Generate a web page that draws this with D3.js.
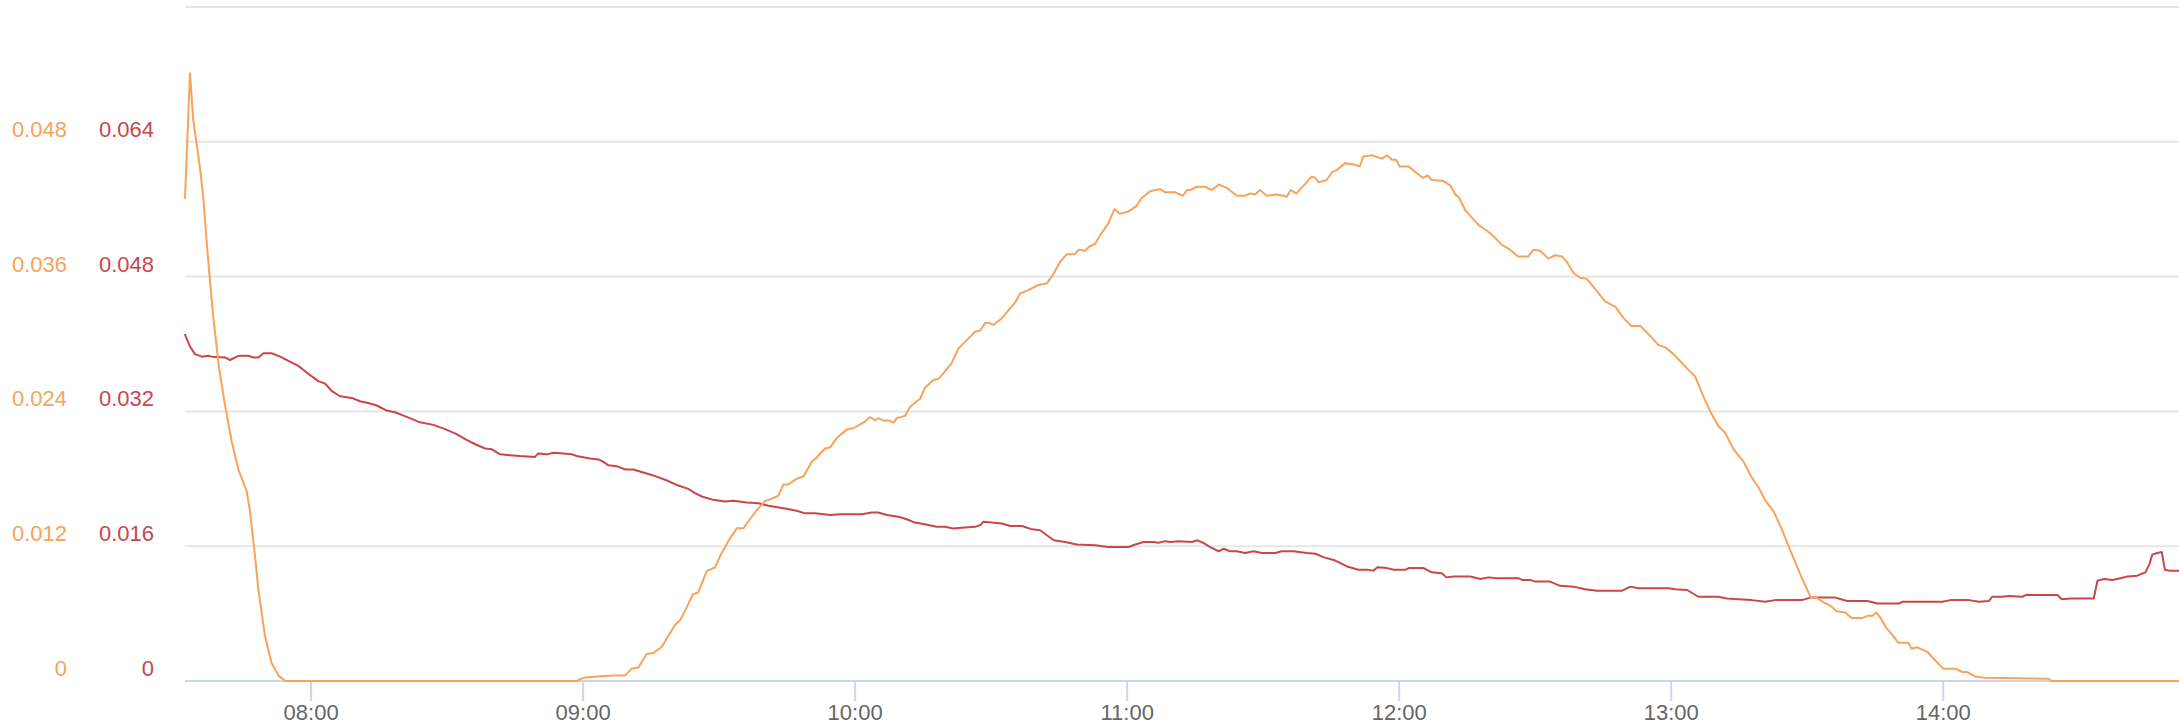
<!DOCTYPE html>
<html>
<head>
<meta charset="utf-8">
<script src="https://cdn.jsdelivr.net/npm/d3@7"></script>
<style>
  html, body { margin: 0; padding: 0; background: #ffffff; }
  svg { display: block; font-family: "Liberation Sans", Arial, Helvetica, sans-serif; }
</style>
</head>
<body>
<svg id="chart" width="2179" height="727"></svg>
<script>
// Orange series (left-most axis, 0 – 0.06)
const timesA = [
  "07:32:18","07:33:24","07:34:06","07:35:36","07:36:18","07:37:24","07:38:30","07:39:42","07:41:06","07:42:36",
  "07:44:06","07:45:54","07:46:36","07:47:42","07:48:30","07:49:54","07:51:24","07:52:54","07:54:24","08:58:42",
  "09:00:12","09:03:06","09:06:48","09:09:24","09:10:48","09:12:18","09:14:06","09:15:36","09:17:24","09:18:36",
  "09:20:24","09:21:30","09:23:00","09:24:18","09:25:30","09:27:24","09:29:12","09:30:18","09:32:30","09:34:00",
  "09:35:30","09:36:54","09:38:24","09:40:12","09:42:06","09:43:12","09:44:18","09:45:24","09:47:12","09:48:42",
  "09:50:30","09:51:36","09:53:30","09:54:36","09:56:00","09:58:18","09:59:42","10:02:18","10:03:24","10:04:30",
  "10:05:12","10:06:18","10:07:30","10:08:36","10:09:18","10:11:06","10:12:12","10:13:42","10:14:24","10:15:30",
  "10:17:24","10:18:30","10:19:36","10:21:24","10:22:54","10:25:06","10:26:36","10:27:42","10:28:48","10:29:30",
  "10:30:36","10:32:30","10:33:54","10:35:24","10:36:30","10:38:18","10:40:12","10:42:24","10:43:48","10:45:18",
  "10:46:48","10:48:36","10:49:24","10:50:48","10:51:54","10:53:00","10:54:30","10:55:54","10:57:18","10:58:30",
  "11:00:24","11:02:12","11:03:18","11:05:12","11:07:24","11:08:30","11:10:42","11:12:24","11:13:18","11:14:00",
  "11:15:30","11:17:18","11:18:48","11:20:18","11:22:06","11:24:18","11:26:06","11:27:12","11:28:18","11:29:24",
  "11:30:54","11:33:06","11:34:36","11:35:18","11:36:12","11:37:24","11:39:00","11:40:48","11:41:36","11:42:18",
  "11:44:06","11:45:18","11:46:24","11:48:12","11:50:00","11:51:24","11:52:12","11:54:06","11:56:18","11:57:24",
  "11:58:30","11:59:24","12:00:12","12:02:12","12:04:00","12:05:18","12:06:24","12:07:18","12:09:54","12:11:24",
  "12:12:30","12:13:12","12:14:42","12:16:30","12:17:36","12:19:24","12:20:54","12:22:48","12:24:12","12:26:18",
  "12:27:54","12:28:36","12:29:42","12:31:12","12:33:00","12:34:30","12:36:00","12:37:06","12:38:36","12:40:00",
  "12:41:30","12:43:42","12:45:30","12:47:48","12:49:36","12:51:18","12:53:18","12:55:30","12:57:18","12:58:48",
  "13:00:36","13:02:30","13:03:54","13:05:24","13:06:54","13:08:42","13:10:30","13:12:00","13:13:54","13:16:06",
  "13:17:54","13:19:24","13:20:48","13:22:42","13:24:30","13:26:42","13:29:00","13:30:48","13:32:12","13:33:42",
  "13:35:12","13:36:36","13:38:30","13:39:54","13:42:12","13:43:24","13:44:30","13:45:18","13:46:18","13:47:24",
  "13:48:54","13:50:12","13:52:24","13:53:06","13:54:24","13:56:36","13:58:24","14:00:06","14:02:48","14:04:18",
  "14:05:24","14:07:12","14:09:06","14:23:24","14:24:00","14:52:06"
];
const valuesA = [
  0.0430,0.0541,0.0500,0.0457,0.0432,0.0375,0.0325,0.0282,0.0246,0.0213,
  0.0188,0.0169,0.0152,0.0113,0.0081,0.0041,0.0016,0.0005,0,0,
  0.0003,0.0004,0.0005,0.0005,0.0011,0.0012,0.0024,0.0025,0.0030,0.0038,
  0.0050,0.0054,0.0066,0.0077,0.0079,0.0098,0.0101,0.0111,0.0127,0.0136,
  0.0136,0.0144,0.0152,0.0160,0.0163,0.0165,0.0175,0.0175,0.0180,0.0182,
  0.0195,0.0199,0.0207,0.0208,0.0216,0.0224,0.0225,0.0231,0.0235,0.0232,
  0.0234,0.0232,0.0232,0.0230,0.0234,0.0236,0.0244,0.0249,0.0251,0.0261,
  0.0268,0.0269,0.0274,0.0283,0.0296,0.0305,0.0311,0.0312,0.0319,0.0319,
  0.0317,0.0323,0.0330,0.0337,0.0345,0.0348,0.0352,0.0354,0.0362,0.0373,
  0.0380,0.0380,0.0384,0.0383,0.0387,0.0389,0.0399,0.0407,0.0420,0.0416,
  0.0418,0.0423,0.0430,0.0436,0.0438,0.0435,0.0435,0.0432,0.0437,0.0437,
  0.0440,0.0440,0.0437,0.0442,0.0439,0.0432,0.0432,0.0434,0.0433,0.0437,
  0.0432,0.0433,0.0432,0.0431,0.0437,0.0434,0.0441,0.0449,0.0448,0.0444,
  0.0446,0.0453,0.0455,0.0461,0.0460,0.0458,0.0467,0.0468,0.0465,0.0468,
  0.0464,0.0464,0.0458,0.0458,0.0452,0.0448,0.0450,0.0446,0.0445,0.0441,
  0.0433,0.0431,0.0419,0.0411,0.0406,0.0401,0.0396,0.0388,0.0385,0.0378,
  0.0378,0.0378,0.0384,0.0383,0.0376,0.0379,0.0378,0.0373,0.0363,0.0359,
  0.0358,0.0347,0.0338,0.0333,0.0323,0.0316,0.0316,0.0307,0.0299,0.0297,
  0.0291,0.0283,0.0277,0.0271,0.0256,0.0240,0.0227,0.0221,0.0206,0.0195,
  0.0181,0.0172,0.0161,0.0151,0.0135,0.0113,0.0091,0.0075,0.0074,0.0070,
  0.0067,0.0062,0.0061,0.0056,0.0056,0.0058,0.0058,0.0061,0.0056,0.0048,
  0.0041,0.0034,0.0034,0.0029,0.0030,0.0026,0.0018,0.0011,0.0011,0.0008,
  0.0008,0.0004,0.0003,0.0002,0,0
];

// Red series (inner axis, 0 – 0.08)
const timesB = [
  "07:32:18","07:33:24","07:34:30","07:36:00","07:37:24","07:38:12","07:41:06","07:42:12","07:44:06","07:46:18",
  "07:47:24","07:48:30","07:49:36","07:51:24","07:53:18","07:55:06","07:57:18","07:59:54","08:01:42","08:03:12",
  "08:04:42","08:06:30","08:09:06","08:10:54","08:12:42","08:14:36","08:16:48","08:18:36","08:20:30","08:21:54",
  "08:24:06","08:27:06","08:29:42","08:32:12","08:34:06","08:36:18","08:38:30","08:40:00","08:41:48","08:44:00",
  "08:46:12","08:49:30","08:50:12","08:52:06","08:53:36","08:55:48","08:57:36","08:58:42","09:01:36","09:03:30",
  "09:04:36","09:05:42","09:07:30","09:09:24","09:11:12","09:13:00","09:15:36","09:18:36","09:21:06","09:23:18",
  "09:24:48","09:26:18","09:28:48","09:31:24","09:33:18","09:36:12","09:38:48","09:41:00","09:44:18","09:47:12",
  "09:49:06","09:51:18","09:54:36","09:56:48","09:59:42","10:01:36","10:03:48","10:05:12","10:07:06","10:09:42",
  "10:11:30","10:13:18","10:15:30","10:18:06","10:19:54","10:21:48","10:23:36","10:26:36","10:27:42","10:28:24",
  "10:30:12","10:32:30","10:34:18","10:36:54","10:39:06","10:40:54","10:42:24","10:43:54","10:46:24","10:49:00",
  "10:53:00","10:56:00","11:00:24","11:01:54","11:03:42","11:05:54","11:07:00","11:08:30","11:09:36","11:11:24",
  "11:14:24","11:15:30","11:16:54","11:18:24","11:20:18","11:21:24","11:22:48","11:24:18","11:26:06","11:28:00",
  "11:29:48","11:32:48","11:34:12","11:36:48","11:39:42","11:41:36","11:43:24","11:46:00","11:48:36","11:51:06",
  "11:53:00","11:54:24","11:55:18","11:57:24","11:58:54","12:01:24","12:02:12","12:05:30","12:07:18","12:09:30",
  "12:10:30","12:12:06","12:15:48","12:18:00","12:19:48","12:21:36","12:26:24","12:27:12","12:29:00","12:30:06",
  "12:33:24","12:35:36","12:38:36","12:41:06","12:43:42","12:49:12","12:51:06","12:52:54","12:59:30","13:01:00",
  "13:03:36","13:06:06","13:10:30","13:12:24","13:14:54","13:17:54","13:20:48","13:23:00","13:28:54","13:30:48",
  "13:36:18","13:38:54","13:40:24","13:43:24","13:45:36","13:50:18","13:51:06","13:59:54","14:01:42","14:05:48",
  "14:08:00","14:10:12","14:10:54","14:13:06","14:14:36","14:17:30","14:18:18","14:25:18","14:26:12","14:28:12",
  "14:33:18","14:34:06","14:35:36","14:37:24","14:39:12","14:40:42","14:42:54","14:44:42","14:45:36","14:46:12",
  "14:47:18","14:48:18","14:49:00","14:49:54","14:52:06"
];
const valuesB = [
  0.0411,0.0397,0.0388,0.0385,0.0386,0.0385,0.0384,0.0381,0.0386,0.0386,
  0.0384,0.0384,0.0389,0.0389,0.0385,0.0380,0.0374,0.0363,0.0356,0.0353,
  0.0344,0.0338,0.0336,0.0332,0.0330,0.0327,0.0321,0.0319,0.0315,0.0312,
  0.0307,0.0304,0.0299,0.0293,0.0287,0.0281,0.0276,0.0275,0.0269,0.0268,
  0.0267,0.0266,0.0270,0.0269,0.0271,0.0270,0.0269,0.0267,0.0264,0.0263,
  0.0260,0.0256,0.0255,0.0251,0.0251,0.0248,0.0244,0.0238,0.0232,0.0228,
  0.0223,0.0219,0.0215,0.0213,0.0214,0.0212,0.0211,0.0208,0.0205,0.0202,
  0.0199,0.0199,0.0197,0.0198,0.0198,0.0198,0.0200,0.0200,0.0197,0.0195,
  0.0192,0.0188,0.0186,0.0183,0.0183,0.0181,0.0182,0.0183,0.0185,0.0189,
  0.0188,0.0187,0.0184,0.0184,0.0180,0.0179,0.0173,0.0167,0.0165,0.0162,
  0.0161,0.0159,0.0159,0.0162,0.0165,0.0165,0.0164,0.0166,0.0165,0.0166,
  0.0165,0.0167,0.0164,0.0159,0.0154,0.0157,0.0154,0.0154,0.0152,0.0154,
  0.0152,0.0152,0.0154,0.0154,0.0152,0.0151,0.0147,0.0143,0.0136,0.0132,
  0.0132,0.0131,0.0135,0.0134,0.0132,0.0132,0.0134,0.0134,0.0129,0.0128,
  0.0123,0.0124,0.0124,0.0121,0.0123,0.0122,0.0122,0.0120,0.0120,0.0118,
  0.0118,0.0113,0.0112,0.0109,0.0107,0.0107,0.0112,0.0110,0.0110,0.0109,
  0.0108,0.0100,0.0100,0.0098,0.0097,0.0096,0.0094,0.0096,0.0096,0.0099,
  0.0099,0.0095,0.0095,0.0095,0.0092,0.0092,0.0094,0.0094,0.0096,0.0096,
  0.0094,0.0095,0.0100,0.0100,0.0101,0.0100,0.0102,0.0102,0.0097,0.0098,
  0.0098,0.0119,0.0121,0.0120,0.0122,0.0124,0.0125,0.0129,0.0139,0.0150,
  0.0152,0.0153,0.0132,0.0131,0.0131
];

// Axis tick values and labels
const ticksA = [0, 0.012, 0.024, 0.036, 0.048];
const ticksB = [0, 0.016, 0.032, 0.048, 0.064];
const gridValuesB = [0.016, 0.032, 0.048, 0.064, 0.08];
const hourTicks = ["08:00", "09:00", "10:00", "11:00", "12:00", "13:00", "14:00"];

const colorA = "#f7a35c";
const colorB = "#c8474a";

const parseTime = d3.timeParse("%H:%M:%S");
const parseHour = d3.timeParse("%H:%M");

const seriesA = timesA.map((t, i) => ({ t: parseTime(t), v: valuesA[i] }));
const seriesB = timesB.map((t, i) => ({ t: parseTime(t), v: valuesB[i] }));

const plot = { left: 185, right: 2179, top: 7, bottom: 681 };

const x = d3.scaleTime()
  .domain([seriesA[0].t, seriesA[seriesA.length - 1].t])
  .range([plot.left, plot.right]);
const yA = d3.scaleLinear().domain([0, 0.06]).range([plot.bottom, plot.top]);
const yB = d3.scaleLinear().domain([0, 0.08]).range([plot.bottom, plot.top]);

const svg = d3.select("#chart");

// Horizontal grid lines
svg.append("g")
  .selectAll("line")
  .data(gridValuesB)
  .join("line")
  .attr("x1", plot.left)
  .attr("x2", plot.right)
  .attr("y1", d => yB(d))
  .attr("y2", d => yB(d))
  .attr("stroke", "#e6e6e6")
  .attr("stroke-width", 2);

// Left value axes (two columns of labels)
const fmt = d => d === 0 ? "0" : d3.format(".3f")(d);
svg.append("g")
  .selectAll("text")
  .data(ticksA)
  .join("text")
  .attr("x", 67)
  .attr("y", d => yA(d) - 5)
  .attr("text-anchor", "end")
  .attr("font-size", 22)
  .attr("fill", colorA)
  .text(fmt);

svg.append("g")
  .selectAll("text")
  .data(ticksB)
  .join("text")
  .attr("x", 154)
  .attr("y", d => yB(d) - 5)
  .attr("text-anchor", "end")
  .attr("font-size", 22)
  .attr("fill", colorB)
  .text(fmt);

// Time axis
const xAxis = d3.axisBottom(x)
  .tickValues(hourTicks.map(h => parseHour(h)))
  .tickFormat(d3.timeFormat("%H:%M"))
  .tickSize(20)
  .tickSizeOuter(0)
  .tickPadding(3);

const gx = svg.append("g")
  .attr("transform", `translate(0,${plot.bottom})`)
  .call(xAxis);
gx.select(".domain")
  .attr("stroke", "#ccd6eb")
  .attr("stroke-width", 2)
  .attr("d", `M${plot.left},0H${plot.right}`);
gx.selectAll(".tick line")
  .attr("stroke", "#ccd6eb")
  .attr("stroke-width", 2);
gx.selectAll(".tick text")
  .attr("fill", "#666666")
  .attr("font-size", 22)
  .attr("font-family", "'Liberation Sans', Arial, Helvetica, sans-serif")
  .attr("dy", "0.71em");

// Series lines
const lineB = d3.line().x(d => x(d.t)).y(d => yB(d.v));
const lineA = d3.line().x(d => x(d.t)).y(d => yA(d.v));

svg.append("path")
  .datum(seriesB)
  .attr("d", lineB)
  .attr("fill", "none")
  .attr("stroke", colorB)
  .attr("stroke-width", 2)
  .attr("stroke-linejoin", "round")
  .attr("stroke-linecap", "round");

svg.append("path")
  .datum(seriesA)
  .attr("d", lineA)
  .attr("fill", "none")
  .attr("stroke", colorA)
  .attr("stroke-width", 2)
  .attr("stroke-linejoin", "round")
  .attr("stroke-linecap", "round");
</script>
</body>
</html>
